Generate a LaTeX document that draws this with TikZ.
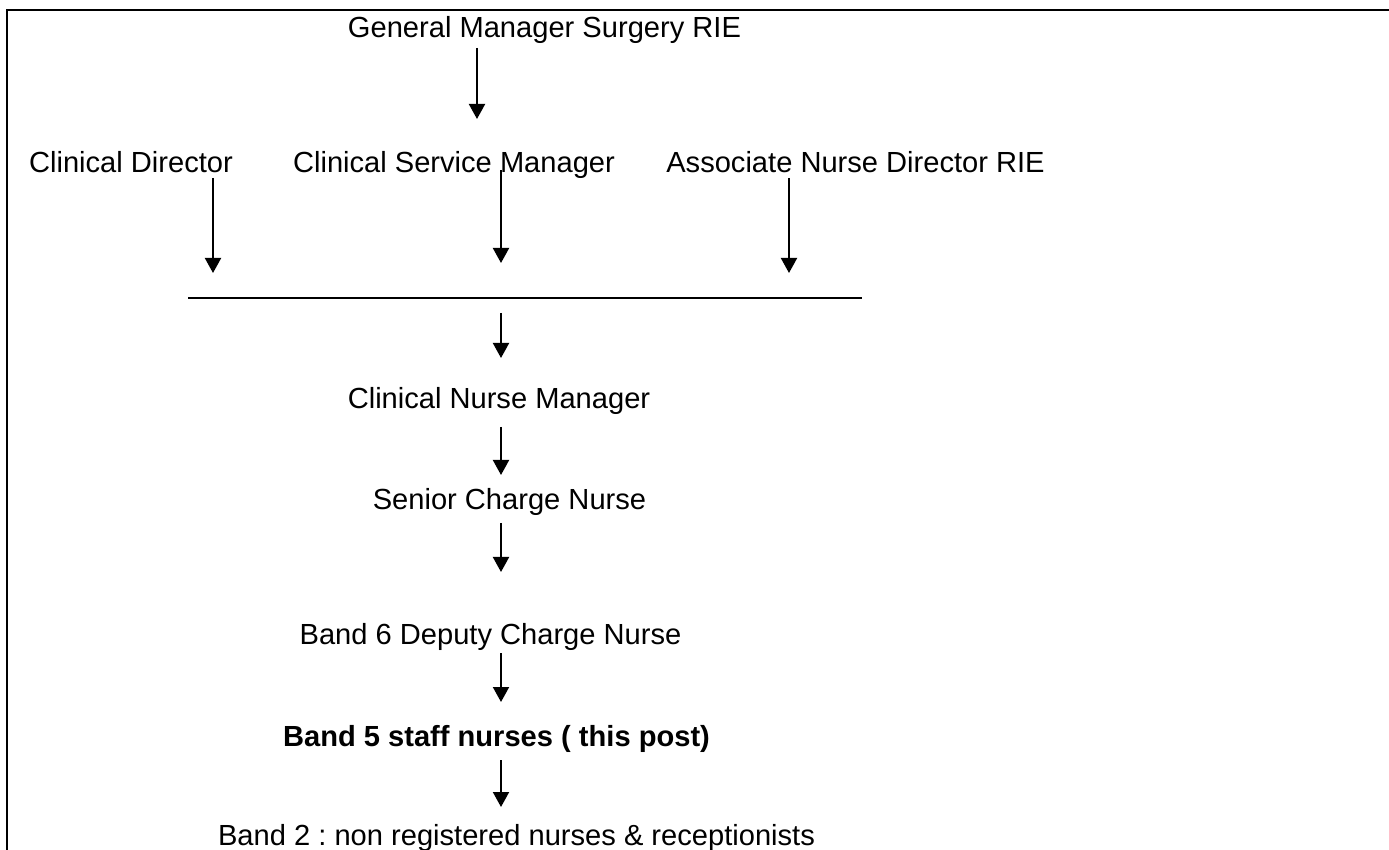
\documentclass[tikz,border=0pt]{standalone}
\usepackage{fontspec}
\setmainfont{Liberation Sans}
\usepackage{tikz}
\usetikzlibrary{positioning, arrows.meta}
\frenchspacing

\begin{document}
\begin{tikzpicture}[x=0.5pt,y=-0.5pt,
  every node/.style={inner sep=0pt,anchor=base,font=\fontsize{14.55}{17}\selectfont},
  arr/.style={line width=1pt,-{Triangle[length=7.5pt,width=8pt]}}]
  \useasboundingbox (0,0) rectangle (1389,850);
  \clip (0,0) rectangle (1389,850);
  \draw[line width=1.4pt] (1395,10) -- (7,10) -- (7,860);

  \node (gm) at (544.5,38) {General Manager Surgery RIE};
  \node (cd) at (131,173) {Clinical Director};
  \node (csm) at (454,173) {Clinical Service Manager};
  \node (and) at (855.5,173) {Associate Nurse Director RIE};
  \node (cnm) at (499,409) {Clinical Nurse Manager};
  \node (scn) at (509.5,510) {Senior Charge Nurse};
  \node (dcn) at (490.5,645) {Band 6 Deputy Charge Nurse};
  \node (sn) at (496.5,747) {\bfseries Band 5 staff nurses ( this post)};
  \node (hca) at (516.5,845) {Band 2 : non registered nurses \& receptionists};

  \coordinate (gmS) at (477,48);   \coordinate (gmT) at (477,119);
  \coordinate (cdS) at (213,178);  \coordinate (cdT) at (213,273);
  \coordinate (csmS) at (501,170); \coordinate (csmT) at (501,263);
  \coordinate (andS) at (789,178); \coordinate (andT) at (789,273);
  \coordinate (barL) at (188,298); \coordinate (barR) at (862,298);
  \coordinate (barS) at (501,313); \coordinate (barT) at (501,358);
  \coordinate (cnmS) at (501,427); \coordinate (cnmT) at (501,475);
  \coordinate (scnS) at (501,523); \coordinate (scnT) at (501,572);
  \coordinate (dcnS) at (501,653); \coordinate (dcnT) at (501,702);
  \coordinate (snS) at (501,760);  \coordinate (snT) at (501,807);

  \draw[arr] (gmS) -- (gmT);
  \draw[arr] (cdS) -- (cdT);
  \draw[arr] (csmS) -- (csmT);
  \draw[arr] (andS) -- (andT);
  \draw[line width=0.75pt] (barL) -- (barR);
  \draw[arr] (barS) -- (barT);
  \draw[arr] (cnmS) -- (cnmT);
  \draw[arr] (scnS) -- (scnT);
  \draw[arr] (dcnS) -- (dcnT);
  \draw[arr] (snS) -- (snT);
\end{tikzpicture}
\end{document}
